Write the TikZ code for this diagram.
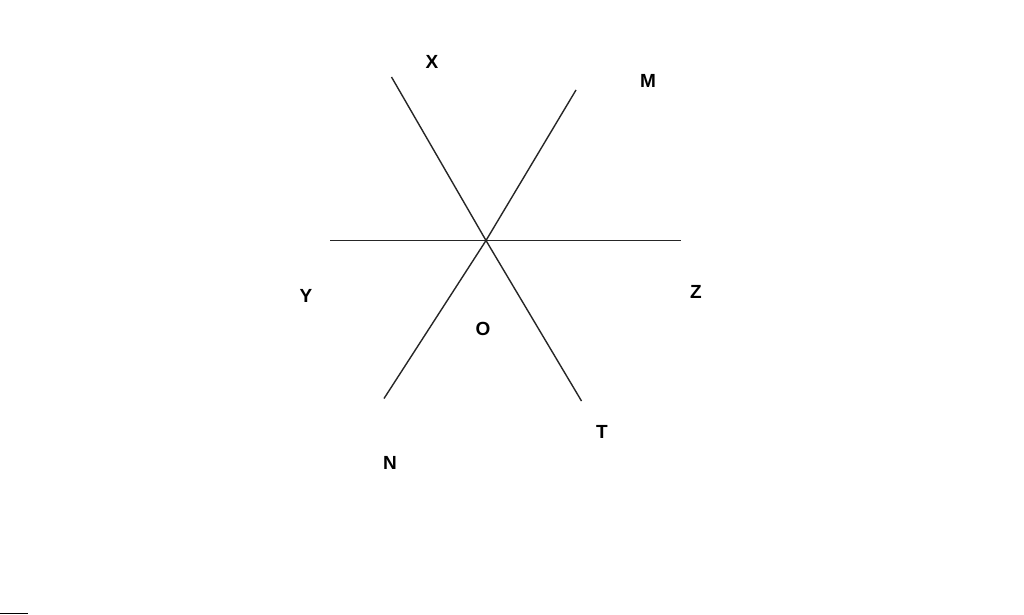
\documentclass[tikz,border=0pt]{standalone}
\usepackage{fontspec}
\setmainfont{Liberation Sans}
\begin{document}
\begin{tikzpicture}[x=1pt,y=-1pt,
  ray/.style={line width=1.4pt,black!85},
  lbl/.style={font=\fontsize{19}{19}\selectfont\bfseries,inner sep=0pt}]
\useasboundingbox[fill=white] (0,0) rectangle (1024,614);
\coordinate (O) at (486,240.5);
\coordinate (Xe) at (391.5,77);
\coordinate (Te) at (581.5,401);
\coordinate (Me) at (576,90);
\coordinate (Ne) at (384,398.5);
\coordinate (Ye) at (330,240.5);
\coordinate (Ze) at (680.5,240.5);
\draw[ray] (Xe) -- (O) -- (Te);
\draw[ray] (Me) -- (O) -- (Ne);
\draw[ray] (Ye) -- (Ze);
\node[lbl] (X) at (432,62) {X};
\node[lbl] (M) at (648,81) {M};
\node[lbl] (Y) at (306,296) {Y};
\node[lbl] (Z) at (696,292) {Z};
\node[lbl] (Ol) at (483,329) {O};
\node[lbl] (T) at (602,432) {T};
\node[lbl] (N) at (390,463) {N};
\fill[black] (0,612.5) rectangle (28,614);
\end{tikzpicture}
\end{document}
